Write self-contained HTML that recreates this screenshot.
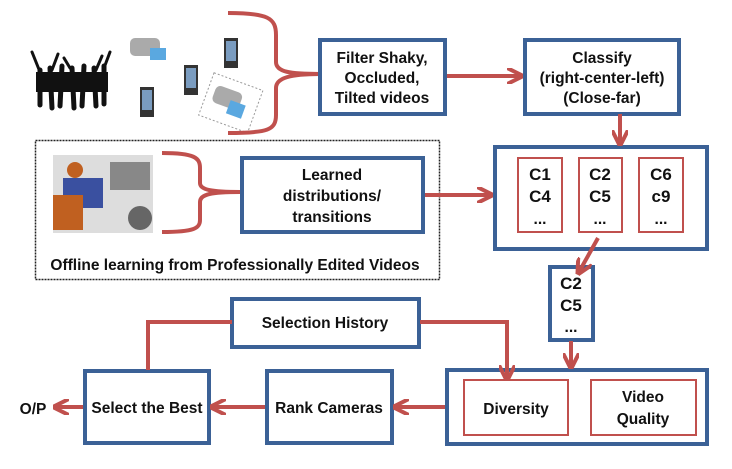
<!DOCTYPE html>
<html><head><meta charset="utf-8"><style>
body{margin:0;background:#fff}
svg text{font-family:"Liberation Sans",sans-serif;font-weight:bold;fill:#111}
</style></head><body>
<svg width="732" height="464" viewBox="0 0 732 464" xmlns="http://www.w3.org/2000/svg">
<defs><marker id="a" viewBox="0 0 10 10" refX="8" refY="5" markerWidth="4" markerHeight="4" orient="auto"><path d="M0,0 L10,5 L0,10" fill="none" stroke="#c0504d" stroke-width="2.5"/></marker></defs>
<g fill="#111" stroke="#111" stroke-width="5" stroke-linecap="round">
<line x1="40" y1="70" x2="40" y2="105"/><line x1="50" y1="68" x2="52" y2="108"/><line x1="62" y1="66" x2="60" y2="106"/><line x1="72" y1="68" x2="74" y2="108"/><line x1="84" y1="66" x2="82" y2="106"/><line x1="94" y1="68" x2="96" y2="106"/><line x1="104" y1="66" x2="104" y2="104"/>
<line x1="40" y1="72" x2="32" y2="52" stroke-width="3"/><line x1="52" y1="70" x2="58" y2="54" stroke-width="3"/><line x1="70" y1="68" x2="64" y2="58" stroke-width="3"/><line x1="96" y1="70" x2="102" y2="56" stroke-width="3"/><line x1="104" y1="68" x2="110" y2="52" stroke-width="3"/>
<rect x="36" y="72" width="72" height="20" stroke="none"/>
</g>
<rect x="130" y="38" width="30" height="18" rx="5" fill="#aaa"/><rect x="150" y="48" width="16" height="12" fill="#5aa8e0"/>
<rect x="224" y="38" width="14" height="30" fill="#333"/><rect x="226" y="41" width="10" height="20" fill="#7a9cc0"/>
<rect x="184" y="65" width="14" height="30" fill="#333"/><rect x="186" y="68" width="10" height="20" fill="#7a9cc0"/>
<rect x="140" y="87" width="14" height="30" fill="#333"/><rect x="142" y="90" width="10" height="20" fill="#7a9cc0"/>
<g transform="rotate(20 230 102)"><rect x="205" y="80" width="52" height="45" fill="#fff" stroke="#999" stroke-dasharray="2,2"/><rect x="212" y="90" width="28" height="18" rx="5" fill="#aaa"/><rect x="230" y="100" width="16" height="14" fill="#5aa8e0"/></g>
<rect x="53" y="155" width="100" height="78" fill="#ddd"/><rect x="110" y="162" width="40" height="28" fill="#888"/><circle cx="75" cy="170" r="8" fill="#c06020"/><rect x="63" y="178" width="40" height="30" fill="#3a50a0"/><rect x="53" y="195" width="30" height="35" fill="#c06020"/><circle cx="140" cy="218" r="12" fill="#666"/>
<g fill="none" stroke="#c0504d" stroke-width="4">
<path d="M228,13 C268,13 276,18 276,35 L276,62 C276,72 290,74 320,74 C290,74 276,78 276,88 L276,115 C276,130 268,133 228,133"/>
<path d="M162,153 C195,153 200,158 200,168 L200,183 C200,190 212,192 240,192 C212,192 200,194 200,202 L200,220 C200,228 195,232 162,232"/>
</g>
<rect x="35.5" y="140.5" width="404" height="139" fill="none" stroke="#222" stroke-width="1.5" stroke-dasharray="2,1"/>
<g fill="#fff" stroke="#3b6196" stroke-width="4">
<rect x="320" y="40" width="125" height="74"/>
<rect x="525" y="40" width="154" height="74"/>
<rect x="242" y="158" width="181" height="74"/>
<rect x="495" y="147" width="212" height="102"/>
<rect x="550" y="267" width="43" height="73"/>
<rect x="447" y="370" width="260" height="74"/>
<rect x="232" y="299" width="187" height="48"/>
<rect x="267" y="371" width="125" height="72"/>
<rect x="85" y="371" width="124" height="72"/>
</g>
<g fill="#fff" stroke="#c0504d" stroke-width="2">
<rect x="518" y="158" width="44" height="74"/>
<rect x="579" y="158" width="43" height="74"/>
<rect x="639" y="158" width="44" height="74"/>
<rect x="464" y="380" width="104" height="55"/>
<rect x="591" y="380" width="105" height="55"/>
</g>
<g fill="none" stroke="#c0504d" stroke-width="4" marker-end="url(#a)">
<line x1="447" y1="76" x2="520" y2="76"/>
<line x1="620" y1="114" x2="620" y2="143"/>
<line x1="425" y1="195" x2="490" y2="195"/>
<line x1="598" y1="238" x2="579" y2="272"/>
<line x1="571" y1="341" x2="571" y2="366"/>
<polyline points="420,322 507,322 507,378"/>
<line x1="445" y1="407" x2="396" y2="407"/>
<line x1="265" y1="407" x2="213" y2="407"/>
<line x1="83" y1="407" x2="56" y2="407"/>
</g>
<polyline points="232,322 148,322 148,370" fill="none" stroke="#c0504d" stroke-width="4"/>
<g font-size="15.5" text-anchor="middle">
<text x="382" y="63">Filter Shaky,</text><text x="382" y="83">Occluded,</text><text x="382" y="103">Tilted videos</text>
<text x="602" y="63">Classify</text><text x="602" y="83">(right-center-left)</text><text x="602" y="103">(Close-far)</text>
<text x="332" y="180">Learned</text><text x="332" y="201">distributions/</text><text x="332" y="222">transitions</text>
<text x="235" y="270">Offline learning from Professionally Edited Videos</text>
<text x="540" y="180" font-size="17">C1</text><text x="540" y="202" font-size="17">C4</text><text x="540" y="224">...</text>
<text x="600" y="180" font-size="17">C2</text><text x="600" y="202" font-size="17">C5</text><text x="600" y="224">...</text>
<text x="661" y="180" font-size="17">C6</text><text x="661" y="202" font-size="17">c9</text><text x="661" y="224">...</text>
<text x="571" y="289" font-size="17">C2</text><text x="571" y="311" font-size="17">C5</text><text x="571" y="332">...</text>
<text x="325" y="328">Selection History</text>
<text x="516" y="414">Diversity</text>
<text x="643" y="402">Video</text><text x="643" y="424">Quality</text>
<text x="329" y="413">Rank Cameras</text>
<text x="147" y="413">Select the Best</text>
<text x="33" y="414">O/P</text>
</g>
</svg>
</body></html>
